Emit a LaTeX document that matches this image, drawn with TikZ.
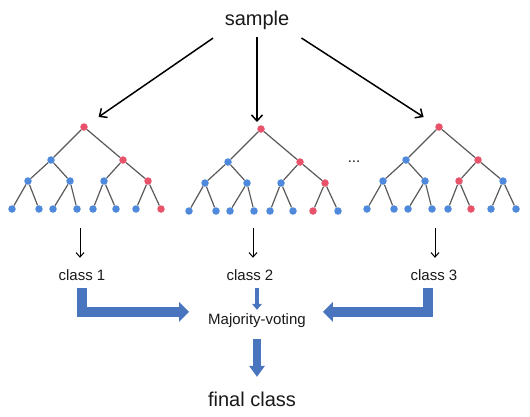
\documentclass[tikz,border=0pt]{standalone}
\usepackage{fontspec}
\setmainfont{Liberation Sans}
\usetikzlibrary{calc,arrows.meta}
\definecolor{nr}{RGB}{232,82,106}
\definecolor{nb}{RGB}{78,137,220}
\definecolor{fb}{RGB}{72,117,190}
\tikzset{
  v/.style={circle, inner sep=0pt, minimum size=7.5bp},
  e/.style={draw=black!65, line width=1.2bp},
  a/.style={-{Straight Barb[length=6bp 0 0, width=11bp 0 0]}, line width=1.5bp},
  as/.style={-{Straight Barb[length=4.5bp 0 0, width=8bp 0 0]}, line width=1bp, shorten >=9.5bp},
  fat/.style={fb, line width=9.5bp, -{Triangle[length=10bp 0 0, width=20bp 0 0, line width=0pt 0 0]}},
  big/.style={inner sep=2bp, text=black!90, font=\fontsize{20bp}{24bp}\selectfont},
  txt/.style={inner sep=2bp, text=black!90, font=\fontsize{15bp}{18bp}\selectfont}
}
\newcommand{\tree}[3]{
  \foreach \c [count=\k from 0] in {#3} {
    \pgfmathsetmacro\dx{{0,-33,39,-56,-14,20,64,-72,-45,-31,-7,9,32,52,77}[\k]}
    \pgfmathsetmacro\dy{{0,33,33,54,54,54,54,82,82,82,82,82,82,82,82}[\k]}
    \node[v, fill=\c] (#1-\k) at ($(#2)+(\dx,\dy)$) {};
  }
  \foreach \p/\q in {0/1,0/2,1/3,1/4,2/5,2/6,3/7,3/8,4/9,4/10,5/11,5/12,6/13,6/14}
    \draw[e] (#1-\p) -- (#1-\q);
}

\begin{document}
\begin{tikzpicture}[x=1bp, y=-1bp]
  \useasboundingbox (0,0) rectangle (530,416);
  \node[big] (sample) at (257,20) {sample};

  \tree{t1}{84,127}{nr,nb,nr,nb,nb,nb,nr,nb,nb,nb,nb,nb,nb,nb,nr}
  \tree{t2}{261,129}{nr,nb,nr,nb,nb,nb,nr,nb,nb,nb,nb,nb,nb,nr,nb}
  \tree{t3}{439,127}{nr,nb,nr,nb,nb,nr,nb,nb,nb,nb,nb,nb,nr,nb,nb}
  \node[txt, anchor=base] (dots) at (354,162) {...};

  \draw[a, shorten <=11.6bp, shorten >=13.8bp] (sample.south west) -- (t1-0);
  \draw[a, shorten <=5.6bp, shorten >=7bp] (sample.south) -- (sample.south |- t2-0);
  \draw[a, shorten <=12bp, shorten >=14.4bp] (sample.south east) -- (t3-0);

  \node[txt] (class1) at (82,275) {class 1};
  \node[txt] (class2) at (250,275) {class 2};
  \node[txt] (class3) at (434,275) {class 3};
  \coordinate (t1-out) at (80,228);
  \coordinate (t2-out) at (253,228);
  \coordinate (t3-out) at (435,228);
  \draw[as] (t1-out) -- (t1-out |- class1.north);
  \draw[as] (t2-out) -- (t2-out |- class2.north);
  \draw[as] (t3-out) -- (t3-out |- class3.north);

  \node[txt] (vote) at (257,321) {Majority-voting};
  \node[big] (final) at (252,399) {final class};

  \draw[fat, shorten <=5.5bp, shorten >=17bp] (class1.south) |- (vote.north west);
  \draw[fat, shorten <=5.5bp, shorten >=15bp] ([xshift=-6bp]class3.south) |- (vote.north east);
  \draw[fat, line width=4bp, -{Triangle[length=6bp 0 0, width=10bp 0 0, line width=0pt 0 0]},
    shorten <=5.5bp, shorten >=2bp] (vote.north |- class2.south) -- (vote.north);
  \draw[fat, line width=8bp, -{Triangle[length=11bp 0 0, width=16bp 0 0, line width=0pt 0 0]},
    shorten <=9bp, shorten >=12.7bp] (vote.south) -- (vote.south |- final.north);
\end{tikzpicture}
\end{document}
